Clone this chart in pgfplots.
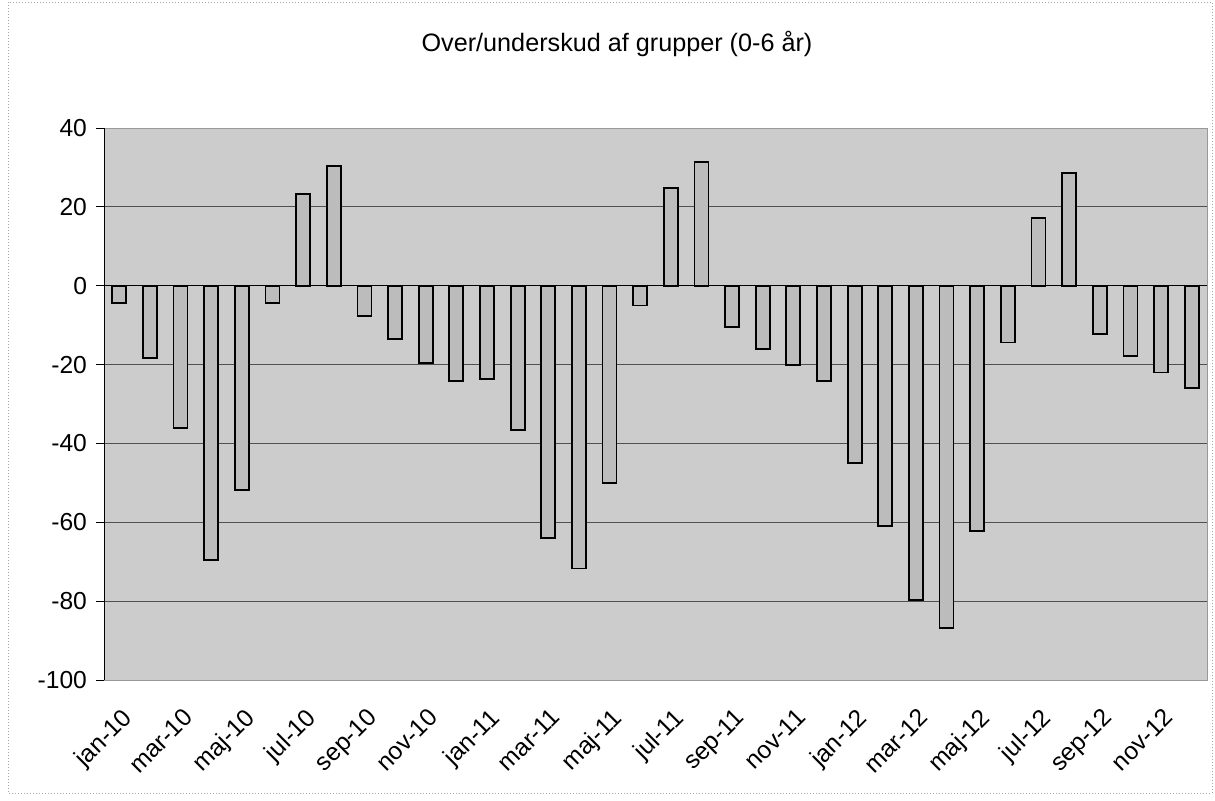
\documentclass[border=0pt]{standalone}
\usepackage{pgfplots}
\pgfplotsset{compat=1.18}
\usepackage{fontspec}
\setmainfont{Liberation Sans}
\definecolor{bgfill}{RGB}{204,204,204}
\definecolor{barfill}{RGB}{188,188,188}
\definecolor{gridc}{RGB}{80,80,80}
\begin{document}
\begin{tikzpicture}
\path (0pt,0pt) rectangle (607.5pt,-400pt);
\draw[gray!70, line width=0.5pt, densely dotted] (4pt,-1pt) rectangle (606pt,-396.5pt);
\node[font=\fontsize{12.6}{14}\selectfont, anchor=center] at (308.5pt,-22pt) {Over/underskud af grupper (0-6 år)};
\begin{axis}[
  at={(52pt,-340pt)}, anchor=south west,
  scale only axis, width=551.5pt, height=276pt,
  xmin=-0.5, xmax=35.5, ymin=-100, ymax=40,
  ytick={-100,-80,...,40},
  ytick pos=left,
  xtick={0,2,...,34},
  xticklabels={jan-10,mar-10,maj-10,jul-10,sep-10,nov-10,jan-11,mar-11,maj-11,jul-11,sep-11,nov-11,jan-12,mar-12,maj-12,jul-12,sep-12,nov-12},
  x tick label style={rotate=45, anchor=north east, inner sep=1pt, yshift=-6pt, xshift=-5pt},
  tick label style={font=\fontsize{12.3}{14}\selectfont},
  /pgf/number format/assume math mode=true,
  major x tick style={draw=none},
  y tick style={black, line width=0.5pt},
  tick align=outside, major tick length=4pt,
  ymajorgrids, grid style={gridc, line width=0.5pt},
  axis background/.style={fill=bgfill},
  axis line style={gray!80, line width=0.5pt},
  ybar, bar width=7pt,
  y tick label style={xshift=-1pt},
]
\draw[black, line width=0.6pt] (axis cs:-0.5,0) -- (axis cs:35.5,0);
\addplot[fill=barfill, draw=black, line width=0.9pt] coordinates {
(0,-4.3) (1,-18.3) (2,-36) (3,-69.6) (4,-51.8) (5,-4.3)
(6,23.2) (7,30.3) (8,-7.7) (9,-13.6) (10,-19.6) (11,-24.2)
(12,-23.7) (13,-36.6) (14,-64) (15,-71.7) (16,-50.1) (17,-5)
(18,24.7) (19,31.3) (20,-10.5) (21,-16.1) (22,-20.2) (23,-24.2)
(24,-45) (25,-61) (26,-79.8) (27,-86.9) (28,-62.2) (29,-14.4)
(30,17.1) (31,28.5) (32,-12.3) (33,-17.9) (34,-22) (35,-26)
};
\draw[black, line width=0.6pt] (axis cs:-0.5,-100) -- (axis cs:-0.5,40);
\end{axis}
\end{tikzpicture}
\end{document}
